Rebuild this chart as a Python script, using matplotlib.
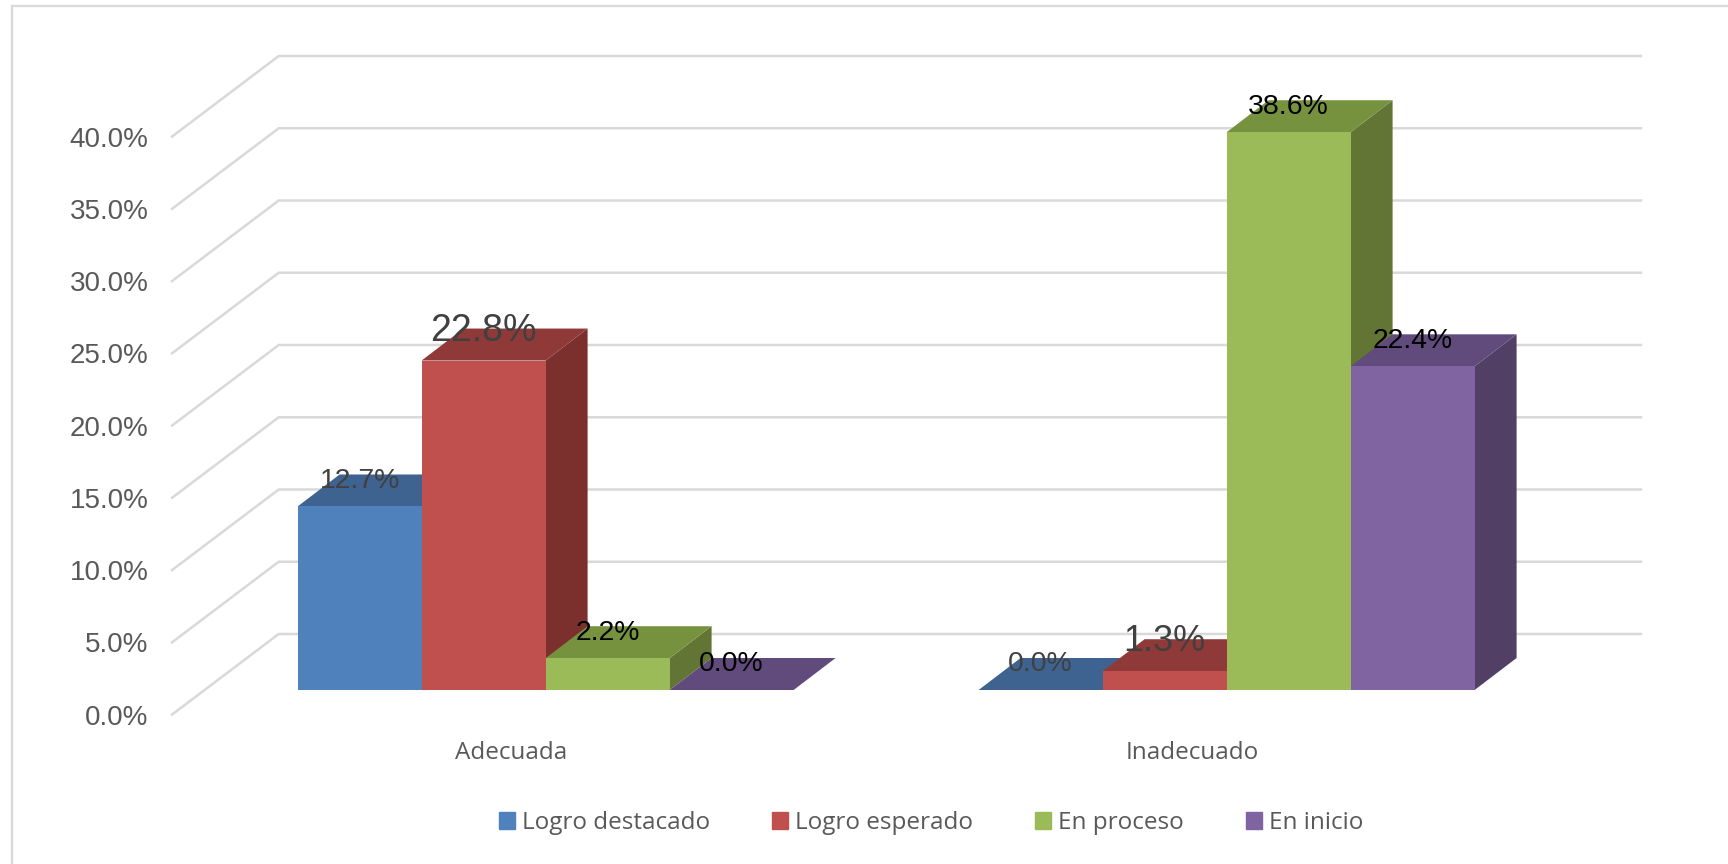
import matplotlib
matplotlib.use("Agg")
import matplotlib.pyplot as plt
from matplotlib.patches import Patch, Polygon
import numpy as np

# values
groups = ['Adecuada', 'Inadecuado']
series = ['Logro destacado', 'Logro esperado', 'En proceso', 'En inicio']
logro_destacado = [12.7, 0.0]
logro_esperado = [22.8, 1.3]
en_proceso = [2.2, 38.6]
en_inicio = [0.0, 22.4]
y_ticks = [0, 5, 10, 15, 20, 25, 30, 35, 40]

values = [logro_destacado, logro_esperado, en_proceso, en_inicio]
colors = ['#4F81BD', '#C0504D', '#9BBB59', '#8064A2']
tops = ['#3E6390', '#8F3A38', '#76923F', '#604B7C']
sides = ['#35547A', '#7B302E', '#637534', '#523F66']
# label look is not uniform in the original
label_size = [[20.4, 20.4], [27, 26], [20.4, 20.4], [20.4, 20.4]]
label_color = [['#404040', '#404040'], ['#404040', '#404040'], ['black', 'black'], ['black', 'black']]

W, H = 1728, 864
fig = plt.figure(figsize=(W / 100, H / 100), dpi=100)
fig.patch.set_facecolor('white')
# chart frame, only top and left are inside the crop
fig.add_artist(plt.Line2D([12 / W, 12 / W, 1], [0, 1 - 5.5 / H, 1 - 5.5 / H], transform=fig.transFigure,
                          color='#D9D9D9', lw=1.6, solid_joinstyle='miter'))

# pixel box of the front wall plane
left, right, bottom, top = 172, 1641, 714.6, 56
ax = fig.add_axes([left / W, 1 - bottom / H, (right - left) / W, (bottom - top) / H])
ax.patch.set_alpha(0)
px_x = 681.0    # pixels per group
px_y = 14.45    # pixels per percent
ax.set_xlim((left - 545.6) / px_x, (right - 545.6) / px_x)
ax.set_ylim((690 - bottom) / px_y, (690 - top) / px_y)
for s in ax.spines.values():
    s.set_visible(False)

front_shift = (690 - bottom) / px_y
back_shift = (690 - 634) / px_y
back_x = (278.7 - 545.6) / px_x
x_min = ax.get_xlim()[0]
x_max = ax.get_xlim()[1]
for v in y_ticks:
    ax.plot([x_min, back_x, x_max], [v + front_shift, v + back_shift, v + back_shift],
            color='#D9D9D9', lw=1.8, zorder=1, clip_on=False, solid_joinstyle='miter')

ax.set_yticks([v + front_shift for v in y_ticks])
ax.set_yticklabels(['%.1f%%' % v for v in y_ticks], family='Liberation Sans', fontsize=20, color='#595959')
ax.tick_params(axis='y', length=0, pad=17)
ax.set_xticks([i - 0.05 for i in range(len(groups))])
ax.set_xticklabels(groups, family='Open Sans', fontsize=17.5, color='#595959')
ax.tick_params(axis='x', length=0, pad=19)

bar_w = 124 / px_x
dx = 42 / px_x
dy = 32 / px_y
z = 2
for g in range(len(groups)):
    for s in range(len(series)):
        v = values[s][g]
        x0 = g + (s - 2) * bar_w
        x1 = x0 + bar_w
        ax.add_patch(Polygon([(x1, 0), (x1 + dx, dy), (x1 + dx, v + dy), (x1, v)], fc=sides[s], ec='none', zorder=z))
        ax.add_patch(Polygon([(x0, v), (x1, v), (x1 + dx, v + dy), (x0 + dx, v + dy)], fc=tops[s], ec='none', zorder=z))
        ax.bar(x0, v, width=bar_w, align='edge', color=colors[s], zorder=z + 0.5)
        z += 1

for g in range(len(groups)):
    for s in range(len(series)):
        v = values[s][g]
        big = label_size[s][g] > 22
        ax.annotate('%.1f%%' % v, (g + (s - 1.5) * bar_w, v), xytext=(0, 21.5 if big else 18.5),
                    textcoords='offset points', ha='center', va='center', family='Liberation Sans',
                    fontsize=label_size[s][g], color=label_color[s][g], zorder=50)

handles = [Patch(color=c, label=n) for c, n in zip(colors, series)]
fig.legend(handles=handles, loc='center', bbox_to_anchor=(931 / W, 1 - 823 / H), ncol=4, frameon=False,
           prop={'family': 'Open Sans', 'size': 17.5}, labelcolor='#595959', handlelength=0.66, handleheight=0.66,
           handletextpad=0.29, columnspacing=2.55, borderpad=0, borderaxespad=0)

fig.savefig('out.png', dpi=100)
